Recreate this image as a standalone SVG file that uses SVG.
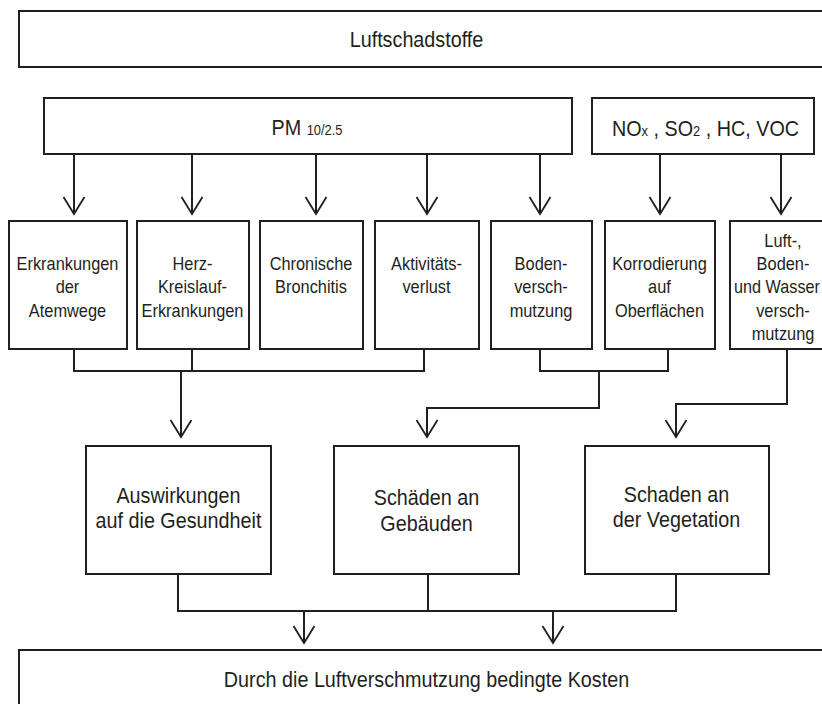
<svg xmlns="http://www.w3.org/2000/svg" width="822" height="704" viewBox="0 0 822 704">
  <style>
    .box { fill: #ffffff; stroke: #231f20; stroke-width: 2; }
    .wire { fill: none; stroke: #231f20; stroke-width: 2; stroke-linejoin: miter; }
    .lbl { font-family: "Liberation Sans", Arial, sans-serif; font-size: 18px; fill: #231f20; text-anchor: middle; }
    .big { font-family: "Liberation Sans", Arial, sans-serif; font-size: 21.5px; fill: #231f20; text-anchor: middle; }
    .sub { font-size: 14px; }
  </style>
  <defs>
    <marker id="head" markerUnits="userSpaceOnUse" viewBox="-19 -12 21 24" markerWidth="21" markerHeight="24" refX="0" refY="0" orient="auto" overflow="visible">
      <path d="M -17 -10.5 L 0 0 L -17 10.5" fill="none" stroke="#231f20" stroke-width="1.8"/>
    </marker>
  </defs>
  <rect width="822" height="704" fill="#ffffff"/>

  <!-- connectors -->
  <g id="connectors" class="wire">
    <!-- PM 10/2.5 to the health and soil boxes -->
    <path d="M 74 154 V 214" marker-end="url(#head)"/>
    <path d="M 192 154 V 214" marker-end="url(#head)"/>
    <path d="M 316 154 V 214" marker-end="url(#head)"/>
    <path d="M 427 154 V 214" marker-end="url(#head)"/>
    <path d="M 540 154 V 214" marker-end="url(#head)"/>
    <!-- NOx, SO2, HC, VOC -->
    <path d="M 660 154 V 214" marker-end="url(#head)"/>
    <path d="M 781 154 V 214" marker-end="url(#head)"/>
    <!-- health effects bundle -->
    <path d="M 74 349 V 371 H 424 V 349"/>
    <path d="M 192 349 V 371"/>
    <path d="M 181 371 V 437" marker-end="url(#head)"/>
    <!-- building damage bundle -->
    <path d="M 540 349 V 371 H 668 V 349"/>
    <path d="M 599 371 V 408 H 427 V 437" marker-end="url(#head)"/>
    <!-- vegetation -->
    <path d="M 787 349 V 404 H 676 V 437" marker-end="url(#head)"/>
    <!-- costs -->
    <path d="M 178 574 V 611 H 676 V 574"/>
    <path d="M 428 574 V 611"/>
    <path d="M 304 611 V 643" marker-end="url(#head)"/>
    <path d="M 553 611 V 643" marker-end="url(#head)"/>
  </g>

  <g id="luftschadstoffe">
    <rect class="box" x="19" y="11" width="840" height="56"/>
    <g transform="translate(416.5 0) scale(0.92 1)"><text class="big" x="0" y="47">Luftschadstoffe</text></g>
  </g>

  <g id="pm">
    <rect class="box" x="44" y="98" width="528" height="56"/>
    <g transform="translate(307 0) scale(0.92 1)"><text class="big" x="0" y="135" font-size="19px">PM <tspan class="sub">10/2.5</tspan></text></g>
  </g>

  <g id="gase">
    <rect class="box" x="592" y="98" width="222" height="56"/>
    <g transform="translate(705.5 0) scale(0.92 1)"><text class="big" x="0" y="136" font-size="20px">NO<tspan class="sub">x</tspan> , SO<tspan class="sub">2</tspan> , HC, VOC</text></g>
  </g>

  <g id="atemwege">
    <rect class="box" x="9" y="221" width="118" height="128"/>
    <g transform="translate(67.5 0) scale(0.91 1)">
      <text class="lbl" x="0" y="270">Erkrankungen</text>
      <text class="lbl" x="0" y="293.5">der</text>
      <text class="lbl" x="0" y="317">Atemwege</text>
    </g>
  </g>

  <g id="herz">
    <rect class="box" x="137" y="221" width="112" height="128"/>
    <g transform="translate(192.5 0) scale(0.91 1)">
      <text class="lbl" x="0" y="270">Herz-</text>
      <text class="lbl" x="0" y="293.5">Kreislauf-</text>
      <text class="lbl" x="0" y="317">Erkrankungen</text>
    </g>
  </g>

  <g id="bronchitis">
    <rect class="box" x="260" y="221" width="103" height="128"/>
    <g transform="translate(311 0) scale(0.91 1)">
      <text class="lbl" x="0" y="270">Chronische</text>
      <text class="lbl" x="0" y="293.5">Bronchitis</text>
    </g>
  </g>

  <g id="aktivitaet">
    <rect class="box" x="375" y="221" width="104" height="128"/>
    <g transform="translate(426.5 0) scale(0.91 1)">
      <text class="lbl" x="0" y="270">Aktivitäts-</text>
      <text class="lbl" x="0" y="293.5">verlust</text>
    </g>
  </g>

  <g id="boden">
    <rect class="box" x="491" y="221" width="101" height="128"/>
    <g transform="translate(541 0) scale(0.91 1)">
      <text class="lbl" x="0" y="270">Boden-</text>
      <text class="lbl" x="0" y="293.5">versch-</text>
      <text class="lbl" x="0" y="317">mutzung</text>
    </g>
  </g>

  <g id="korrosion">
    <rect class="box" x="605" y="221" width="110" height="128"/>
    <g transform="translate(659.5 0) scale(0.91 1)">
      <text class="lbl" x="0" y="270">Korrodierung</text>
      <text class="lbl" x="0" y="293.5">auf</text>
      <text class="lbl" x="0" y="317">Oberflächen</text>
    </g>
  </g>

  <g id="umwelt">
    <rect class="box" x="730" y="221" width="110" height="128"/>
    <g transform="translate(783 0) scale(0.91 1)">
      <text class="lbl" x="0" y="247">Luft-,</text>
      <text class="lbl" x="0" y="270">Boden-</text>
      <text class="lbl" x="0" y="317">versch-</text>
      <text class="lbl" x="0" y="340">mutzung</text>
    </g>
    <g transform="translate(777 0) scale(0.9 1)">
      <text class="lbl" x="0" y="293.5">und Wasser</text>
    </g>
  </g>

  <g id="gesundheit">
    <rect class="box" x="86" y="446" width="185" height="128"/>
    <g transform="translate(178.5 0) scale(0.92 1)">
      <text class="big" x="0" y="503" font-size="20.5px">Auswirkungen</text>
      <text class="big" x="0" y="528" font-size="20.5px">auf die Gesundheit</text>
    </g>
  </g>

  <g id="gebaeude">
    <rect class="box" x="334" y="446" width="185" height="128"/>
    <g transform="translate(426.5 0) scale(0.92 1)">
      <text class="big" x="0" y="505" font-size="20.5px">Schäden an</text>
      <text class="big" x="0" y="531" font-size="20.5px">Gebäuden</text>
    </g>
  </g>

  <g id="vegetation">
    <rect class="box" x="585" y="446" width="184" height="128"/>
    <g transform="translate(676.5 0) scale(0.92 1)">
      <text class="big" x="0" y="502" font-size="20.5px">Schaden an</text>
      <text class="big" x="0" y="527" font-size="20.5px">der Vegetation</text>
    </g>
  </g>

  <g id="kosten">
    <rect class="box" x="19" y="650" width="840" height="80"/>
    <g transform="translate(426.5 0) scale(0.92 1)"><text class="big" x="0" y="687" font-size="21px">Durch die Luftverschmutzung bedingte Kosten</text></g>
  </g>
</svg>
